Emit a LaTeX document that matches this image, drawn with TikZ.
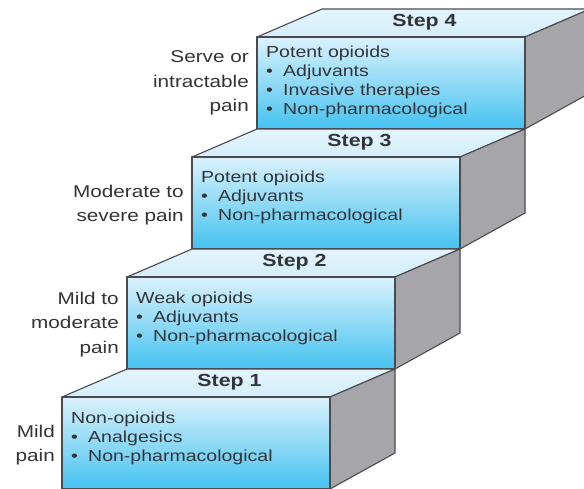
\documentclass[tikz,border=0pt]{standalone}
\usepackage{fontspec}
\setmainfont{Liberation Sans}[FakeStretch=1.22]
\definecolor{frontTop}{RGB}{218,242,252}
\definecolor{frontBot}{RGB}{68,194,240}
\definecolor{topFace}{RGB}{210,237,250}
\definecolor{topBack}{RGB}{228,245,252}
\definecolor{sideFace}{RGB}{166,166,170}
\definecolor{edgecol}{RGB}{74,74,80}
\definecolor{txtcol}{RGB}{52,52,56}
\newcommand\bul{\makebox[17pt][l]{•}}
\tikzset{
  face/.style={draw=edgecol, line width=1.1pt, line join=round},
  frontface/.style={face, top color=frontTop, bottom color=frontBot},
  topface/.style={face, top color=topBack, bottom color=topFace},
  sideface/.style={face, fill=sideFace},
  boxtext/.style={anchor=north west, inner sep=0pt, align=left, text=txtcol,
    font=\fontsize{16}{19}\selectfont},
  paintext/.style={anchor=north east, inner sep=0pt, align=right, text=txtcol,
    font=\fontsize{17}{24.5}\selectfont},
  steptitle/.style={anchor=center, inner sep=0pt, text=txtcol,
    font=\fontsize{17.5}{19}\selectfont\bfseries}
}
\begin{document}
\begin{tikzpicture}[x=1pt,y=-1pt]
\useasboundingbox (0,0) rectangle (584,488);
\clip (0,0) rectangle (584,488);
\fill[white] (0,0) rectangle (584,488);
% faces of the four steps (k=3 is Step 4, top)
\foreach \k in {3,2,1,0} {
  \pgfmathsetmacro\L{62+65*\k}
  \pgfmathsetmacro\T{397-120*\k}
  \path[topface] (\L,\T) -- (\L+65,\T-28) -- (\L+333,\T-28) -- (\L+268,\T) -- cycle;
  \path[sideface] (\L+268,\T) -- (\L+333,\T-28) -- (\L+333,\T+56) -- (\L+268,\T+92) -- cycle;
  \path[frontface] (\L,\T) rectangle (\L+268,\T+92);
  \coordinate (fl\k) at (\L,\T);
}
% Step 4
\node[steptitle] (t4) at (424.5,22.5) {Step 4};
\node[boxtext] (b4) at (266,45.5) {Potent opioids\\\bul Adjuvants\\\bul Invasive therapies\\\bul Non-pharmacological};
\node[paintext] (p4) at (249,50.5) {Serve or\\intractable\\pain};
% Step 3
\node[steptitle] (t3) at (359.5,142.5) {Step 3};
\node[boxtext] (b3) at (201,170.5) {Potent opioids\\\bul Adjuvants\\\bul Non-pharmacological};
\node[paintext] (p3) at (184,184.5) {Moderate to\\severe pain};
% Step 2
\node[steptitle] (t2) at (294.5,262.5) {Step 2};
\node[boxtext] (b2) at (136,291.5) {Weak opioids\\\bul Adjuvants\\\bul Non-pharmacological};
\node[paintext] (p2) at (119,291.5) {Mild to\\moderate\\pain};
% Step 1
\node[steptitle] (t1) at (229.5,382.5) {Step 1};
\node[boxtext] (b1) at (71,411.5) {Non-opioids\\\bul Analgesics\\\bul Non-pharmacological};
\node[paintext] (p1) at (55,424.5) {Mild\\pain};
\end{tikzpicture}
\end{document}
